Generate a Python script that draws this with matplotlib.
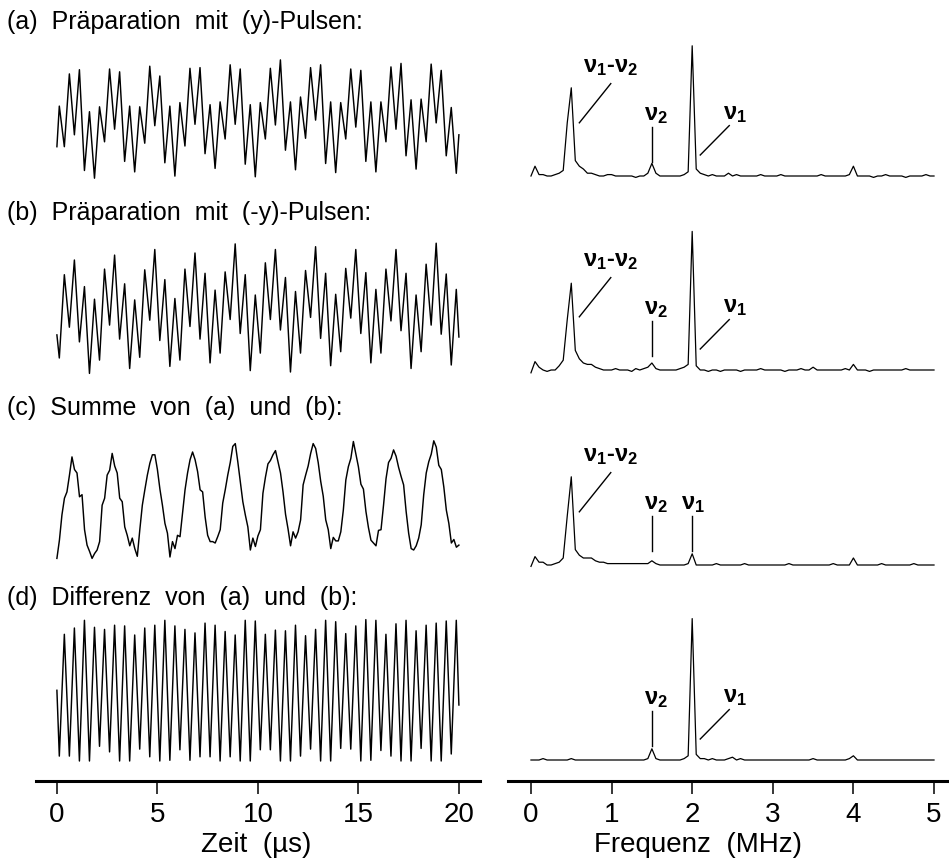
import numpy as np
import matplotlib
matplotlib.use("Agg")
import matplotlib.pyplot as plt

plt.rcParams["font.family"] = ["Liberation Sans", "DejaVu Sans"]
plt.rcParams["mathtext.default"] = "regular"

# time axis (µs): extrema of the 2 MHz oscillation come every 0.25 µs
t_ext = np.concatenate(([0.0], 0.12 + 0.25 * np.arange(80), [20.0]))
t_sum = np.linspace(0, 20, 161)
freq = np.linspace(0, 5, 101)

# (a) preparation with (y) pulses, signal in a.u.
sig_y = [-36,
         22, -36, 68, -19, 74, -70, 14, -81, 21, -29, 75, -11, 71, -57, 22, -72, 21, -31, 79, -6,
         65, -59, 22, -78, 27, -35, 76, -4, 77, -46, 24, -67, 28, -25, 81, -4, 75, -61, 24, -79,
         27, -25, 76, -5, 88, -41, 28, -69, 35, -24, 77, 2, 81, -60, 28, -73, 27, -25, 75, -8,
         73, -57, 28, -72, 28, -29, 78, -11, 83, -49, 31, -68, 32, -29, 82, -2, 73, -49, 20, -74,
         -19]

# (b) preparation with (-y) pulses
sig_my = [-37,
          -70, 49, -26, 70, -47, 32, -92, 14, -73, 57, -23, 77, -43, 36, -85, 13, -69, 56, -16, 85,
          -45, 42, -82, 15, -73, 57, -25, 80, -43, 51, -77, 27, -63, 53, -15, 93, -35, 49, -88, 20,
          -63, 66, -15, 85, -30, 45, -90, 25, -63, 55, -12, 89, -42, 51, -81, 21, -61, 58, -13, 85,
          -35, 52, -77, 28, -63, 57, -17, 85, -31, 51, -85, 20, -61, 64, -23, 94, -36, 50, -80, 28,
          -40]

# (c) sum of (a) and (b), sampled every 0.125 µs
sig_sum = [-82, -56, -20, 4, 13, 37, 63, 45, 40, 6, 9, -41, -63, -72, -82, -75,
           -70, -58, -6, 4, 37, 44, 68, 50, 40, 4, -1, -37, -49, -64, -53, -68,
           -79, -41, -6, 16, 37, 54, 66, 66, 45, 17, -6, -32, -46, -80, -58, -68,
           -49, -51, -18, 16, 40, 59, 70, 59, 42, 16, 13, -23, -49, -58, -58, -60,
           -51, -41, -3, 16, 37, 55, 78, 82, 56, 28, -1, -20, -37, -70, -53, -65,
           -50, -41, 11, 34, 53, 58, 66, 72, 56, 40, 13, -19, -40, -64, -44, -53,
           -44, -27, 23, 37, 50, 68, 82, 75, 55, 28, 7, -27, -41, -68, -52, -57,
           -57, -44, -13, 30, 49, 61, 85, 67, 49, 24, 17, -15, -38, -56, -60, -64,
           -42, -41, -6, 32, 55, 61, 73, 64, 48, 35, 23, -15, -46, -68, -70, -64,
           -53, -34, 9, 40, 56, 67, 86, 77, 51, 45, 20, -13, -32, -60, -55, -66,
           -63]

# (d) difference of (a) and (b)
sig_diff = [1,
            -93, 81, -93, 90, -100, 101, -100, 91, -79, 88, -87, 94, -100, 93, -100, 80, -83, 90, -94, 94,
            -100, 101, -99, 93, -84, 88, -99, 83, -94, 97, -94, 94, -100, 85, -94, 80, -100, 101, -100, 100,
            -84, 81, -84, 87, -100, 86, -100, 94, -93, 79, -83, 88, -100, 101, -100, 99, -82, 82, -83, 93,
            -100, 102, -99, 101, -85, 81, -93, 96, -100, 101, -100, 86, -82, 94, -100, 97, -100, 100, -90, 101,
            -20]

# Fourier spectra, 0 ... 5 MHz in 0.05 MHz steps
spec_y = [0, 7, 1, 1, 0, 0, 1, 2, 4, 38, 63, 11, 7, 5, 2, 2, 1, 0, 0, 1,
          1, 0, 0, 0, 0, 0, -1, 0, 0, 2, 9, 2, 0, 0, 0, 0, 0, 0, 1, 3,
          93, 5, 2, 1, 0, 1, 0, 0, 0, 2, 0, 1, 0, 0, 0, 0, 0, 1, 0, 0,
          0, 0, 1, 0, 0, 0, 0, 0, 0, 0, 0, 0, 1, 0, 0, 0, 0, 0, 0, 1,
          7, 0, 0, 0, 0, -1, 0, 0, 1, 0, 0, 0, 0, -1, 0, 0, 0, 0, 1, 0,
          0]
spec_my = [-2, 6, 2, 0, -1, 0, 0, 3, 7, 36, 62, 14, 8, 5, 4, 4, 2, 1, 0, 0,
           0, 1, 0, 0, 0, -1, 1, 0, 1, 2, 5, 1, 0, 0, 0, 0, 0, 1, 2, 4,
           99, 3, 0, 0, -1, 0, 0, -1, 0, 0, 0, 0, -1, 0, 0, 0, 0, 1, 0, 0,
           0, 0, 0, -1, 0, 0, 0, 1, 0, 0, 2, 0, 0, 0, 0, 0, 0, 0, 1, 0,
           4, 0, 0, 0, -1, 0, 0, 0, 0, 0, 0, 0, 0, 1, 0, 0, 0, 0, 0, 0,
           0]
spec_sum = [-1, 6, 2, 2, 0, 0, 1, 2, 5, 35, 63, 11, 7, 5, 5, 5, 3, 2, 2, 1,
            1, 1, 1, 1, 1, 1, 1, 1, 1, 1, 3, 1, 0, 0, 0, 0, 0, 0, 0, 1,
            8, 0, 0, 0, 0, 0, 1, 0, 0, 0, 0, 0, 0, 1, 0, 0, 0, 0, 0, 0,
            0, 0, 0, 0, 1, 0, 0, 0, 0, 0, 0, 0, 0, 0, 0, 1, 0, 0, 0, 0,
            5, 0, 0, 0, 0, 0, 0, 1, 0, 0, 0, 0, 0, 0, 0, 1, 0, 0, 0, 0,
            0]
spec_diff = [0, 0, 0, 1, 0, 0, 0, 0, 0, 0, 1, 0, 0, 0, 0, 0, 0, 0, 0, 0,
             0, 0, 0, 0, 0, 0, 0, 0, 0, 1, 8, 1, 0, 0, 0, 0, 0, 0, 1, 3,
             101, 4, 1, 1, 0, 1, 0, 0, 0, 1, 2, 0, 1, 0, 0, 0, 0, 0, 0, 0,
             0, 0, 0, 0, 0, 0, 0, 0, 0, 0, 1, 0, 0, 0, 0, 0, 0, 0, 0, 1,
             3, 0, 0, 0, 0, 0, 0, 0, 0, 0, 0, 0, 0, 0, 0, 0, 0, 0, 0, 0,
             0]

titles = ["(a)  Präparation  mit  (y)-Pulsen:",
          "(b)  Präparation  mit  (-y)-Pulsen:",
          "(c)  Summe  von  (a)  und  (b):",
          "(d)  Differenz  von  (a)  und  (b):"]

NU12 = "$ν_1$-$ν_2$"
NU1 = "$ν_1$"
NU2 = "$ν_2$"

W, H = 949, 861
fig = plt.figure(figsize=(W / 100, H / 100), dpi=100)


def px_axes(x0, y0, x1, y1):
    ax = fig.add_axes([x0 / W, 1 - y1 / H, (x1 - x0) / W, (y1 - y0) / H])
    ax.set_facecolor("none")
    for s in ax.spines.values():
        s.set_visible(False)
    ax.set_xticks([])
    ax.set_yticks([])
    return ax


T_LIM = (-1.04, 21.05)
F_LIM = (-0.285, 5.186)
LEFT_X = (36, 480)
RIGHT_X = (508, 949)

trace_centers = [121.5, 309, 501, 691]
spec_bases = [176, 370, 565, 760]
title_y = [22, 213, 408, 598]

traces = [(t_ext, sig_y), (t_ext, sig_my), (t_sum, sig_sum), (t_ext, sig_diff)]
spectra = [spec_y, spec_my, spec_sum, spec_diff]

for i in range(4):
    c = trace_centers[i]
    ax = px_axes(LEFT_X[0], c - 80, LEFT_X[1], c + 80)
    t, s = traces[i]
    ax.plot(t, s, color="black", lw=1.05)
    ax.set_xlim(*T_LIM)
    ax.set_ylim(-80 / 0.7, 80 / 0.7)

    b = spec_bases[i]
    ax = px_axes(RIGHT_X[0], b - 150, RIGHT_X[1], b + 10)
    ax.plot(freq, spectra[i], color="black", lw=0.9)
    ax.set_xlim(*F_LIM)
    ax.set_ylim(-10 / 1.4, 150 / 1.4)

    # peak labels
    kw = dict(ha="center", va="center", fontsize=17, fontweight="bold")
    if i < 3:
        ax.text(0.99, 78, NU12, **kw)
        ax.plot([0.99, 0.60], [66, 38], color="black", lw=1.0)
    ax.text(1.545, 44, NU2, **kw)
    ax.plot([1.5, 1.5], [35, 10], color="black", lw=1.0)
    if i == 2:
        ax.text(2.01, 44, NU1, **kw)
        ax.plot([2.0, 2.0], [35, 10], color="black", lw=1.0)
    else:
        ax.text(2.53, 45, NU1, **kw)
        ax.plot([2.46, 2.10], [36, 15], color="black", lw=1.0)

    fig.text(7 / W, 1 - title_y[i] / H, titles[i], fontsize=18, va="center", ha="left")

# shared time and frequency axes at the bottom
for (x0, x1), lim, ticks, label, lab_x in [
        (LEFT_X, T_LIM, [0, 5, 10, 15, 20], "Zeit  (µs)", 256),
        (RIGHT_X, F_LIM, [0, 1, 2, 3, 4, 5], "Frequenz  (MHz)", 698)]:
    ax = px_axes(x0, 760, x1, 781)
    ax.spines["bottom"].set_visible(True)
    ax.spines["bottom"].set_linewidth(2.2)
    ax.set_xlim(*lim)
    ax.set_xticks(ticks)
    ax.set_xticklabels([str(v) for v in ticks], fontsize=20)
    ax.tick_params(axis="x", direction="out", length=9, width=1.1, pad=6)
    fig.text(lab_x / W, 1 - 845 / H, label, fontsize=20, ha="center", va="center")

fig.savefig("out.png", dpi=100)
